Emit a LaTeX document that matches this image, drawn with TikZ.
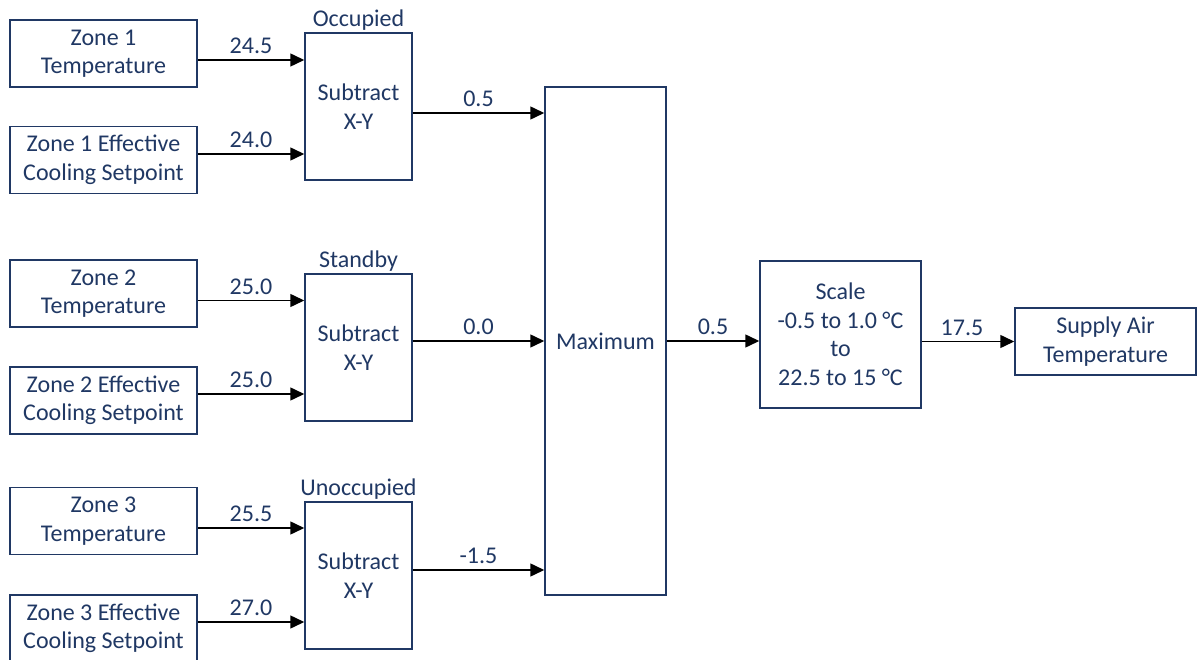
\documentclass[tikz,border=0pt]{standalone}
\usepackage{fontspec}
\setmainfont{Carlito}
\usetikzlibrary{arrows.meta}
\definecolor{navy}{RGB}{32,56,100}
\begin{document}
\begin{tikzpicture}[x=1pt,y=-1pt,
  font=\fontsize{24}{28.5}\selectfont,
  box/.style={draw=navy, line width=1.5pt, text=navy, align=center, inner sep=0pt, fill=white},
  inbox/.style={box, minimum width=187pt, minimum height=67pt},
  subbox/.style={box, minimum width=107pt, minimum height=147pt},
  arr/.style={-{Triangle[length=14pt,width=13pt]}, line width=1.5pt, black},
  val/.style={midway, above, inner sep=5.5pt, text=navy},
  mode/.style={text=navy, inner sep=2pt}
]
\useasboundingbox (0,0) rectangle (1197,660);

% inputs
\node[inbox] (z1t) at (103.5,53.5) {Zone 1\\Temperature};
\node[inbox] (z1s) at (103.5,160) {Zone 1 Effective\\Cooling Setpoint};
\node[inbox] (z2t) at (103.5,293.5) {Zone 2\\Temperature};
\node[inbox] (z2s) at (103.5,400.5) {Zone 2 Effective\\Cooling Setpoint};
\node[inbox] (z3t) at (103.5,521) {Zone 3\\Temperature};
\node[inbox] (z3s) at (103.5,628.5) {Zone 3 Effective\\Cooling Setpoint};

% subtract blocks
\node[subbox, label={[mode]above:Occupied}] (sub1) at (358.5,106.5) {Subtract\\X-Y};
\node[subbox, label={[mode]above:Standby}] (sub2) at (358.5,347.5) {Subtract\\X-Y};
\node[subbox, label={[mode]above:Unoccupied}] (sub3) at (358.5,575.5) {Subtract\\X-Y};

% maximum, scale, output
\node[box, minimum width=121pt, minimum height=508pt] (max) at (605.5,341) {Maximum};
\node[box, minimum width=161pt, minimum height=147pt] (scale) at (840.5,334.5) {Scale\\-0.5 to 1.0 °C\\to\\22.5 to 15 °C};
\node[box, minimum width=181pt, minimum height=67pt] (sup) at (1105.5,341.5) {Supply Air\\Temperature};

% input connectors
\draw[arr] ([yshift=-6.5pt]z1t.east) coordinate (a1) -- (a1 -| sub1.west) node[val] {24.5};
\draw[arr] ([yshift=6pt]z1s.east) coordinate (a2) -- (a2 -| sub1.west) node[val] {24.0};
\draw[arr] ([yshift=-7pt]z2t.east) coordinate (a3) -- (a3 -| sub2.west) node[val] {25.0};
\draw[arr] ([yshift=6.5pt]z2s.east) coordinate (a4) -- (a4 -| sub2.west) node[val] {25.0};
\draw[arr] ([yshift=-7pt]z3t.east) coordinate (a5) -- (a5 -| sub3.west) node[val] {25.5};
\draw[arr] ([yshift=6.5pt]z3s.east) coordinate (a6) -- (a6 -| sub3.west) node[val] {27.0};

% subtract outputs
\draw[arr] ([yshift=-6.5pt]sub1.east) coordinate (b1) -- (b1 -| max.west) node[val] {0.5};
\draw[arr] ([yshift=6.5pt]sub2.east) coordinate (b2) -- (b2 -| max.west) node[val] {0.0};
\draw[arr] ([yshift=5.5pt]sub3.east) coordinate (b3) -- (b3 -| max.west) node[val] {-1.5};

% max -> scale -> supply
\draw[arr] (max.east) -- (max.east -| scale.west) node[val] {0.5};
\draw[arr] (sup.west -| scale.east) -- (sup.west) node[val, xshift=-6pt] {17.5};
\end{tikzpicture}
\end{document}
